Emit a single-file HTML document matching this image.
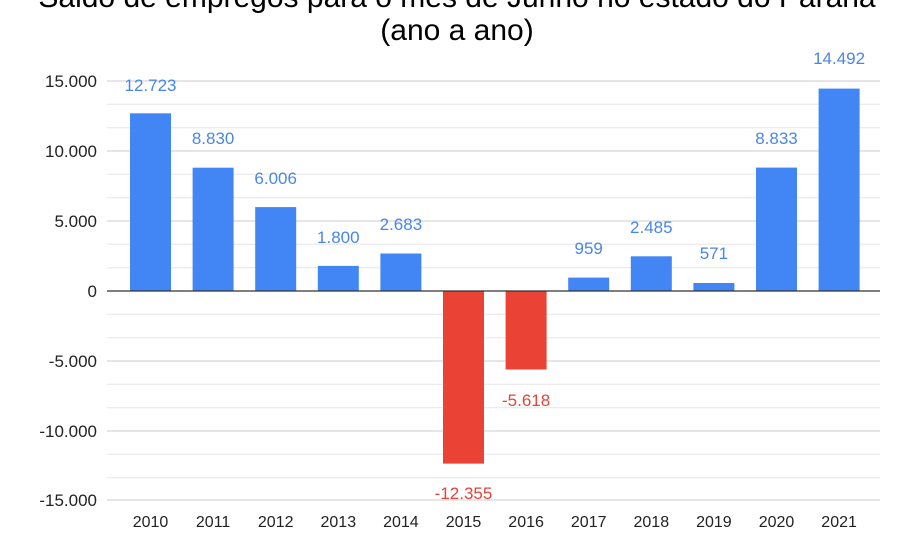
<!DOCTYPE html>
<html><head><meta charset="utf-8"><style>body{margin:0;background:#fff}svg{display:block}</style></head><body>
<svg width="915" height="555" xmlns="http://www.w3.org/2000/svg" font-family="Liberation Sans, Arial, sans-serif">
<text x="457" y="7" text-anchor="middle" font-size="30" fill="#000">Saldo de empregos para o mês de Junho no estado do Paraná</text>
<text x="457" y="40" text-anchor="middle" font-size="30" fill="#000">(ano a ano)</text>
<g stroke="#e6e6e6" stroke-width="1">
<line x1="107" x2="880" y1="104.3" y2="104.3"/><line x1="107" x2="880" y1="127.7" y2="127.7"/>
<line x1="107" x2="880" y1="174.3" y2="174.3"/><line x1="107" x2="880" y1="197.7" y2="197.7"/>
<line x1="107" x2="880" y1="244.3" y2="244.3"/><line x1="107" x2="880" y1="267.7" y2="267.7"/>
<line x1="107" x2="880" y1="314.3" y2="314.3"/><line x1="107" x2="880" y1="337.7" y2="337.7"/>
<line x1="107" x2="880" y1="384.3" y2="384.3"/><line x1="107" x2="880" y1="407.7" y2="407.7"/>
<line x1="107" x2="880" y1="454.3" y2="454.3"/><line x1="107" x2="880" y1="477.7" y2="477.7"/>
</g>
<g stroke="#cccccc" stroke-width="1">
<line x1="107" x2="880" y1="81" y2="81"/><line x1="107" x2="880" y1="151" y2="151"/>
<line x1="107" x2="880" y1="221" y2="221"/><line x1="107" x2="880" y1="361" y2="361"/>
<line x1="107" x2="880" y1="431" y2="431"/><line x1="107" x2="880" y1="500" y2="500"/>
</g>
<g font-size="17" fill="#222" text-anchor="end">
<text x="97" y="87">15.000</text><text x="97" y="157">10.000</text><text x="97" y="227">5.000</text>
<text x="97" y="297">0</text><text x="97" y="367">-5.000</text><text x="97" y="437">-10.000</text><text x="97" y="506">-15.000</text>
</g>
<g fill="#4285f4">
<rect x="130" y="113.3" width="41" height="177.7"/>
<rect x="192.6" y="167.7" width="41" height="123.3"/>
<rect x="255.2" y="207.1" width="41" height="83.9"/>
<rect x="317.8" y="265.9" width="41" height="25.1"/>
<rect x="380.4" y="253.5" width="41" height="37.5"/>
<rect x="568.2" y="277.6" width="41" height="13.4"/>
<rect x="630.8" y="256.3" width="41" height="34.7"/>
<rect x="693.4" y="283" width="41" height="8"/>
<rect x="756" y="167.6" width="41" height="123.4"/>
<rect x="818.6" y="88.6" width="41" height="202.4"/>
</g>
<g fill="#ea4335">
<rect x="443" y="291" width="41" height="172.6"/>
<rect x="505.6" y="291" width="41" height="78.5"/>
</g>
<line x1="107" x2="880" y1="291" y2="291" stroke="#333" stroke-width="1.3"/>
<g font-size="17" fill="#4a86e8" text-anchor="middle">
<text x="150.5" y="91">12.723</text><text x="213.1" y="144">8.830</text><text x="275.7" y="184">6.006</text>
<text x="338.3" y="243">1.800</text><text x="400.9" y="230">2.683</text>
<text x="588.7" y="254">959</text><text x="651.3" y="233">2.485</text><text x="713.9" y="259">571</text>
<text x="776.5" y="144">8.833</text><text x="839.1" y="64">14.492</text>
</g>
<g font-size="17" fill="#e0463a" text-anchor="middle">
<text x="463.5" y="499">-12.355</text><text x="526.1" y="406">-5.618</text>
</g>
<g font-size="16" fill="#222" text-anchor="middle">
<text x="150.5" y="527">2010</text><text x="213.1" y="527">2011</text><text x="275.7" y="527">2012</text>
<text x="338.3" y="527">2013</text><text x="400.9" y="527">2014</text><text x="463.5" y="527">2015</text>
<text x="526.1" y="527">2016</text><text x="588.7" y="527">2017</text><text x="651.3" y="527">2018</text>
<text x="713.9" y="527">2019</text><text x="776.5" y="527">2020</text><text x="839.1" y="527">2021</text>
</g>
</svg>
</body></html>
